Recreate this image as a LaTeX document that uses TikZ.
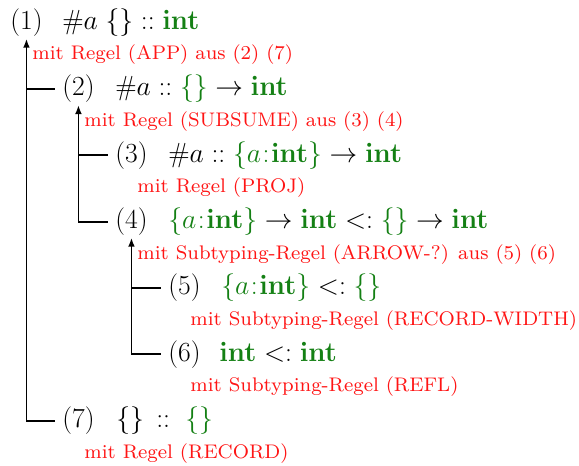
\documentclass[tikz,border=0pt]{standalone}
\usetikzlibrary{arrows.meta}
\definecolor{rd}{RGB}{255,20,20}
\definecolor{gn}{RGB}{20,128,20}
\newcommand{\gr}[1]{\textcolor{gn}{#1}}
\newcommand{\rec}{\{a\mkern1mu{:}\mkern1mu\mathbf{int}\}}
\tikzset{
  lab/.style={anchor=base west, inner sep=0pt, font=\LARGE, scale=0.80},
  frm/.style={anchor=base west, inner sep=0pt, font=\LARGE, scale=0.80},
  rulebox/.style={anchor=base west, inner sep=0pt, text=rd, font=\fontsize{8}{9}\selectfont, scale=1.23},
  conn/.style={line width=0.95pt},
  tip/.style={{Latex[length=4.5pt,width=3.4pt]}-}
}
\begin{document}
\begin{tikzpicture}[x=0.5pt,y=-0.5pt]
\useasboundingbox (0,0) rectangle (579,466);
% labels
\node[lab] (l1) at (10,29.5) {(1)};
\node[lab] (l2) at (62,95.8) {(2)};
\node[lab] (l3) at (115,162.2) {(3)};
\node[lab] (l4) at (115,228.5) {(4)};
\node[lab] (l5) at (168,294.8) {(5)};
\node[lab] (l6) at (168,361.2) {(6)};
\node[lab] (l7) at (62,427.5) {(7)};
% formulas
\node[frm] (f1) at (62,29.5) {$\#a\;\{\} :: \gr{\mathbf{int}}$};
\node[frm] (f2) at (115,95.8) {$\#a :: \gr{\{\}} \rightarrow \gr{\mathbf{int}}$};
\node[frm] (f3) at (168,162.2) {$\#a :: \gr{\rec} \rightarrow \gr{\mathbf{int}}$};
\node[frm] (f4) at (168,228.5) {$\gr{\rec} \rightarrow \gr{\mathbf{int}} <: \gr{\{\}} \rightarrow \gr{\mathbf{int}}$};
\node[frm] (f5) at (221,294.8) {$\gr{\rec} <: \gr{\{\}}$};
\node[frm] (f6) at (219,361.2) {$\gr{\mathbf{int}} <: \gr{\mathbf{int}}$};
\node[frm] (f7) at (116,427.5) {$\{\}\, :: \;\gr{\{\}}$};
% rules
\node[rulebox] (r1) at (32,60) {mit Regel (APP) aus (2) (7)};
\node[rulebox] (r2) at (84,126.3) {mit Regel (SUBSUME) aus (3) (4)};
\node[rulebox] (r3) at (137,192.7) {mit Regel (PROJ)};
\node[rulebox] (r4) at (137,259) {mit Subtyping-Regel (ARROW-?) aus (5) (6)};
\node[rulebox] (r5) at (190,325.3) {mit Subtyping-Regel (RECORD-WIDTH)};
\node[rulebox] (r6) at (190,391.7) {mit Subtyping-Regel (REFL)};
\node[rulebox] (r7) at (84,458) {mit Regel (RECORD)};
% connectors
\draw[conn,tip] ([yshift=-1pt]l1.south) |- ([xshift=-3.5pt]l7.west);
\draw[conn] (l1.south |- l2.west) -- ([xshift=-3.5pt]l2.west);
\draw[conn,tip] ([yshift=-1pt]l2.south) |- ([xshift=-3.5pt]l4.west);
\draw[conn] (l2.south |- l3.west) -- ([xshift=-3.5pt]l3.west);
\draw[conn,tip] ([yshift=-1pt]l4.south) |- ([xshift=-3.5pt]l6.west);
\draw[conn] (l4.south |- l5.west) -- ([xshift=-3.5pt]l5.west);
\end{tikzpicture}
\end{document}
